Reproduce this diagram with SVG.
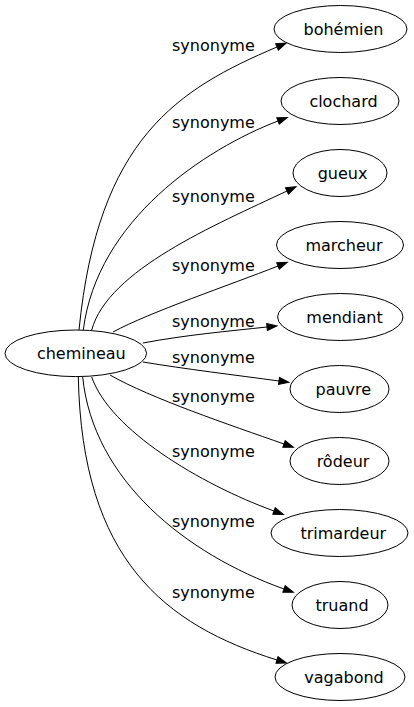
<svg xmlns="http://www.w3.org/2000/svg" width="414" height="707" viewBox="0 0 414 707">
<defs>
<style>
.node ellipse{fill:#fff;stroke:#000;stroke-width:1}
.node text{font-family:"DejaVu Sans",sans-serif;font-size:16px;fill:#000;text-anchor:middle}
.edges path{fill:none;stroke:#000;stroke-width:1;marker-end:url(#arrow)}
.edges text{font-family:"DejaVu Sans",sans-serif;font-size:16px;fill:#000}
</style>
<marker id="arrow" markerUnits="userSpaceOnUse" markerWidth="12" markerHeight="10" refX="0" refY="3.5" orient="auto" overflow="visible">
<path d="M0,0 L10,3.5 L0,7 Z" fill="#000" stroke="#000" stroke-width="1"/>
</marker>
</defs>
<rect width="414" height="707" fill="#fff"/>
<g class="edges" id="edges">
<path d="M79,330 C98,138 178,89 277,47"/>
<text x="172" y="50.7">synonyme</text>
<path d="M83.3,330 C97,220 205,149 278,121"/>
<text x="172" y="128.3">synonyme</text>
<path d="M91.7,330 C108,270 215,225 287,191"/>
<text x="172" y="201.7">synonyme</text>
<path d="M113,332 C150,312 230,285 278,266"/>
<text x="172" y="270.7">synonyme</text>
<path d="M143,343 C185,335 230,331 267,327"/>
<text x="172" y="326.7">synonyme</text>
<path d="M143,362 C185,369 235,375 279,381"/>
<text x="172" y="363.3">synonyme</text>
<path d="M110,375 C150,398 230,425 284,444"/>
<text x="172" y="401.7">synonyme</text>
<path d="M91.7,377 C110,430 200,484 274,511"/>
<text x="172" y="456.7">synonyme</text>
<path d="M82.7,377 C93,480 186,554 284,589"/>
<text x="172" y="526.7">synonyme</text>
<path d="M78.3,377 C82,560 165,625 277,660"/>
<text x="172" y="598.3">synonyme</text>
</g>
<g class="node" id="n-chemineau"><ellipse cx="75.8" cy="353.3" rx="70.8" ry="23.3"/><text x="81.3" y="358.5">chemineau</text></g>
<g class="node" id="n-bohemien"><ellipse cx="340.5" cy="29" rx="66.5" ry="23.5"/><text x="343.5" y="34.5">bohémien</text></g>
<g class="node" id="n-clochard"><ellipse cx="340" cy="101" rx="59" ry="23.5"/><text x="343.5" y="106.5">clochard</text></g>
<g class="node" id="n-gueux"><ellipse cx="340" cy="173" rx="47" ry="23.5"/><text x="342.5" y="178.5">gueux</text></g>
<g class="node" id="n-marcheur"><ellipse cx="340" cy="245" rx="63.5" ry="23.5"/><text x="344" y="250.5">marcheur</text></g>
<g class="node" id="n-mendiant"><ellipse cx="340.3" cy="317" rx="62.7" ry="23.5"/><text x="344.5" y="322.5">mendiant</text></g>
<g class="node" id="n-pauvre"><ellipse cx="339.5" cy="389" rx="49.5" ry="23.5"/><text x="343.3" y="394.5">pauvre</text></g>
<g class="node" id="n-rodeur"><ellipse cx="339.5" cy="461" rx="49.5" ry="23.5"/><text x="343" y="466.5">rôdeur</text></g>
<g class="node" id="n-trimardeur"><ellipse cx="339.5" cy="533" rx="68.5" ry="23.5"/><text x="343.3" y="538.5">trimardeur</text></g>
<g class="node" id="n-truand"><ellipse cx="340" cy="605" rx="48" ry="23.5"/><text x="342" y="610.5">truand</text></g>
<g class="node" id="n-vagabond"><ellipse cx="340" cy="677" rx="65" ry="23.5"/><text x="344" y="682.5">vagabond</text></g>
</svg>
